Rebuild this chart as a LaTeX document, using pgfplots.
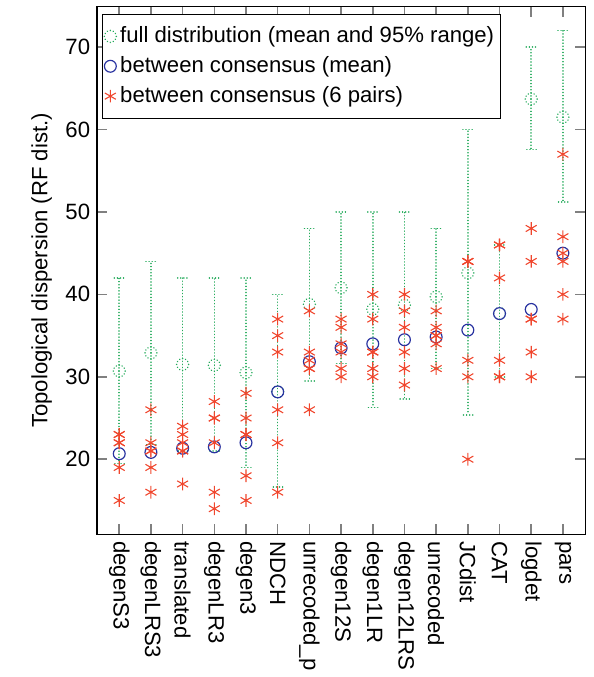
\documentclass[border=0pt]{standalone}
\usepackage{fontspec}
\setmainfont{Liberation Sans}
\usepackage{pgfplots}
\pgfplotsset{compat=1.18}
\usepackage{pgfplotstable}
\definecolor{cgreen}{RGB}{35,170,90}
\definecolor{cblue}{RGB}{40,50,160}
\definecolor{cred}{RGB}{240,70,45}
\newcommand{\fs}{\fontsize{11.2}{13}\selectfont}
\tikzset{gdots/.style={draw=cgreen, line width=0.8pt, line cap=round, dash pattern=on 0.01pt off 1.55pt}}

% full distribution: mean, upper and lower end of 95% range
\pgfplotstableread{
x m hi lo
0 30.7 42 19.5
1 32.9 44 21.8
2 31.5 42 21
3 31.4 42 21
4 30.5 42 19
5 28.2 40 16.6
6 38.8 48 29.5
7 40.8 50 31.6
8 38.2 50 26.3
9 38.7 50 27.3
10 39.7 48 31
11 42.6 60 25.4
12 37.7 46 30
13 63.7 70 57.6
14 61.5 72 51.2
}\fulltab

% between consensus, mean
\pgfplotstableread{
x y
0 20.67
1 20.83
2 21.33
3 21.5
4 22.0
5 28.17
6 31.83
7 33.5
8 34.0
9 34.5
10 34.83
11 35.67
12 37.67
13 38.17
14 45.0
}\meantab

% between consensus, 6 pairs
\pgfplotstableread{
x y
0 23
0 23
0 22
0 22
0 19
0 15
1 26
1 22
1 21
1 21
1 19
1 16
2 24
2 23
2 22
2 21
2 21
2 17
3 27
3 25
3 25
3 22
3 16
3 14
4 28
4 25
4 23
4 23
4 18
4 15
5 37
5 35
5 33
5 26
5 22
5 16
6 38
6 33
6 32
6 31
6 31
6 26
7 37
7 36
7 34
7 33
7 31
7 30
8 40
8 37
8 33
8 33
8 31
8 30
9 40
9 38
9 36
9 33
9 31
9 29
10 38
10 36
10 35
10 35
10 34
10 31
11 44
11 44
11 44
11 32
11 30
11 20
12 46
12 46
12 42
12 32
12 30
12 30
13 48
13 44
13 37
13 37
13 33
13 30
14 57
14 47
14 45
14 44
14 40
14 37
}\pairtab

\begin{document}
\begin{tikzpicture}
\begin{axis}[
    scale only axis,
    width=247pt, height=267pt,
    xmin=-0.7, xmax=14.7,
    ymin=10.9, ymax=74.9,
    xtick={0,...,14},
    xticklabels={degenS3,degenLRS3,translated,degenLR3,degen3,NDCH,unrecoded\_p,degen12S,degen1LR,degen12LRS,unrecoded,JCdist,CAT,logdet,pars},
    xticklabel style={rotate=-90, anchor=west, font=\fs},
    ytick={20,30,...,70},
    yticklabel style={font=\fs},
    /pgf/number format/assume math mode=true,
    tick align=inside,
    major tick length=5pt,
    tick style={gray, line width=0.8pt},
    axis line style={line width=0.6pt},
    ylabel={Topological dispersion (RF dist.)},
    ylabel style={font=\fs},
    legend style={at={(0.01,0.987)}, anchor=north west, font=\fs,
        draw=black, line width=0.5pt, row sep=1.5pt, inner xsep=1pt, inner ysep=4.5pt},
    legend cell align=left,
    legend image code/.code={\draw[mark repeat=2,mark phase=2,#1] plot coordinates {(0cm,0cm)(0.11cm,0cm)(0.22cm,0cm)};},
]
\addplot[only marks, mark=o, mark size=3pt, mark options={gdots},
    error bars/.cd, y dir=both, y explicit,
    error bar style={gdots},
    error mark options={gdots, mark size=2.5pt, rotate=90}]
    table[x=x, y=m, y error plus expr=\thisrow{hi}-\thisrow{m}, y error minus expr=\thisrow{m}-\thisrow{lo}] {\fulltab};
\addlegendentry{full distribution (mean and 95\% range)}
\addplot[only marks, mark=o, mark size=3pt, mark options={draw=cblue, line width=0.6pt}]
    table[x=x, y=y] {\meantab};
\addlegendentry{between consensus (mean)}
\addplot[only marks, mark=asterisk, mark size=3.2pt, mark options={draw=cred, line width=0.55pt}]
    table[x=x, y=y] {\pairtab};
\addlegendentry{between consensus (6 pairs)}
\end{axis}
\path ([xshift=-12.5pt]current bounding box.west);
\path ([xshift=4pt,yshift=3pt]current bounding box.north east);
\end{tikzpicture}
\end{document}
